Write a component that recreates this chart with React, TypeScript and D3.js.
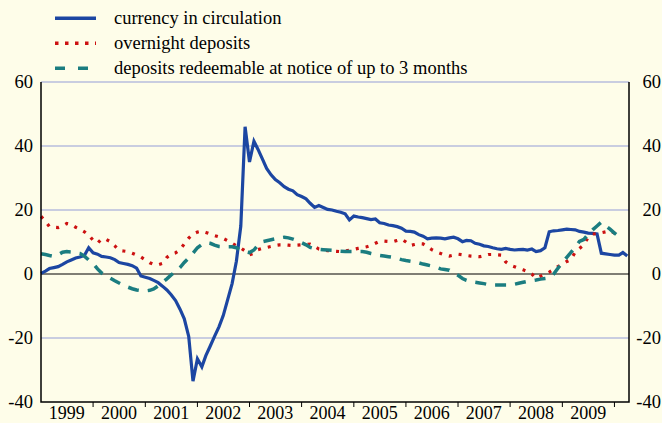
import React from 'react';
import * as d3 from 'd3';

// monthly annual growth rates, first value is January 1999
const startMonth = new Date(1999, 0, 1);

const currency = [
  0.2, 0.9, 1.7, 2.0, 2.3, 3.0, 3.8, 4.4, 5.0, 5.3, 5.8, 8.2,
  6.6, 6.2, 5.5, 5.3, 5.1, 4.5, 3.6, 3.3, 3.0, 2.6, 1.8, -0.6,
  -1.0, -1.4, -2.0, -2.7, -3.8, -5.0, -6.5, -8.3, -11.0, -14.0, -19.5, -33.5,
  -26.5, -29.0, -25.5, -22.5, -19.5, -16.5, -13.0, -8.0, -3.0, 4.0, 15.0, 46.0,
  35.0, 41.5, 39.0, 36.0, 33.0, 31.0, 29.5, 28.5, 27.3, 26.5, 26.0, 24.8,
  24.2, 23.5, 22.1, 20.8, 21.4, 20.8, 20.2, 20.0, 19.6, 19.3, 18.8, 16.9,
  18.1, 17.8, 17.6, 17.3, 17.0, 17.2, 16.0, 15.8, 15.3, 15.1, 14.8, 14.3,
  13.4, 13.3, 13.1, 12.3, 11.8, 11.0, 11.2, 11.3, 11.2, 11.0, 11.3, 11.5,
  11.0, 10.1, 10.5, 10.4, 9.6, 9.3, 8.8, 8.6, 8.2, 7.9, 7.7, 8.0,
  7.7, 7.5, 7.6, 7.7, 7.5, 7.8, 7.0, 7.3, 8.2, 13.2, 13.5, 13.6,
  13.8, 14.0, 13.9, 13.8, 13.3, 13.1, 12.8, 12.7, 12.5, 6.5, 6.3, 6.1,
  5.9, 5.9, 6.7, 5.6
];

const overnight = [
  18.0, 16.5, 14.8, 14.6, 14.5, 15.0, 15.8, 15.5, 14.6, 14.0, 13.2, 12.2,
  10.5, 9.6, 11.0, 10.8, 10.1, 8.8, 7.4, 7.2, 7.0, 6.5, 5.9, 5.3,
  4.4, 3.5, 3.0, 2.9, 3.3, 5.2, 6.2, 6.6, 7.6, 9.4, 11.2, 12.5,
  13.1, 13.4, 13.0, 12.5, 12.0, 11.6, 11.1, 10.4, 9.6, 8.8, 8.1, 7.2,
  6.0, 6.5, 7.6, 8.0, 8.3, 8.6, 8.9, 9.1, 9.1, 9.0, 8.9, 9.0,
  9.1, 9.2, 9.3, 8.6, 7.8, 7.5, 7.3, 7.2, 7.1, 7.0, 7.2, 7.4,
  7.7, 8.0, 8.2, 8.5, 8.9, 9.6, 10.2, 10.3, 10.2, 10.1, 10.5, 10.9,
  10.0, 8.9, 9.2, 9.5, 9.4, 8.5, 7.6, 6.9, 6.4, 5.9, 5.6, 5.9,
  6.2, 6.0, 5.8, 5.6, 5.5, 5.4, 5.7, 6.1, 6.1, 6.0, 5.9, 3.8,
  2.8, 2.3, 1.8, 1.3, 0.8, 0.0, -1.3, -0.7, -0.1, 0.6, 1.4, 2.3,
  3.0, 3.9, 4.5, 6.8, 8.0, 9.1, 11.5, 12.5, 12.6, 12.9, 13.2, 13.5,
  12.8, 11.6
];

const notice = [
  6.3, 6.1, 5.8, 5.5, 6.0, 6.8, 7.0, 6.9, 6.6, 6.4, 5.6, 4.4,
  3.3, 1.6, 0.3, -0.5, -1.3, -2.1, -2.8, -3.5, -4.1, -4.6, -5.0, -5.2,
  -5.3, -5.1, -4.7, -3.7, -2.6, -1.5, -0.3, 0.8, 2.0, 3.6, 5.0, 6.5,
  8.2, 9.2, 9.8, 9.6, 9.0, 8.6, 8.5, 8.5, 8.5, 8.2, 7.5, 7.0,
  6.7, 7.5, 9.0, 10.1, 10.4, 10.7, 11.0, 11.3, 11.5, 11.3, 10.9, 10.4,
  9.8, 9.1, 8.3, 7.9, 7.7, 7.6, 7.5, 7.4, 7.2, 7.1, 7.0, 7.0,
  7.0, 7.0, 7.0, 6.8, 6.4, 6.1, 5.8, 5.6, 5.4, 5.2, 4.9, 4.5,
  4.2, 4.0, 3.8, 3.5, 3.1, 2.8, 2.5, 2.1, 1.6, 1.4, 1.2, 0.3,
  -0.4, -1.4, -2.0, -2.4, -2.6, -2.8, -3.0, -3.3, -3.4, -3.4, -3.4, -3.4,
  -3.4, -3.2, -2.9, -2.6, -2.3, -2.1, -1.9, -1.6, -1.4, -1.2, 0.0, 1.8,
  3.6, 5.2, 6.7, 8.3, 10.2, 10.8, 12.4, 13.8, 15.0, 16.2, 15.0, 14.0,
  12.8, 11.7
];

const yearLabels = ['1999', '2000', '2001', '2002', '2003', '2004', '2005', '2006', '2007', '2008', '2009'];
const yTicks = [60, 40, 20, 0, -20, -40];

const series = [
  { name: 'currency in circulation', values: currency, color: '#1c46a2', width: 3.2, dash: undefined, legendDash: undefined },
  { name: 'overnight deposits', values: overnight, color: '#cc1111', width: 3.2, dash: '3,7', legendDash: '3.5,6.5' },
  { name: 'deposits redeemable at notice of up to 3 months', values: notice, color: '#1b7d80', width: 3.5, dash: '11,9', legendDash: '10,13' }
];

const width = 662;
const height = 423;
const left = 41;
const right = 629;
const top = 82;
const bottom = 402;
const font = 'Liberation Serif';

export default function App() {
  const x = d3.scaleTime()
    .domain([new Date(1999, 0, 1), new Date(2010, 3, 13)])
    .range([left, right]);
  const y = d3.scaleLinear().domain([-40, 60]).range([bottom, top]);

  const monthOf = (i) => d3.timeMonth.offset(startMonth, i);
  const line = d3.line()
    .x((d, i) => x(monthOf(i)))
    .y(d => y(d));

  const yearStarts = d3.timeYear.range(new Date(2000, 0, 1), new Date(2010, 1, 1));

  return (
    <svg width={width} height={height} style={{ position: 'absolute', left: 0, top: 0, display: 'block' }}>
      <rect width={width} height={height} fill="#fefde9" />

      {/* gridlines */}
      {yTicks.filter(d => d !== 0 && d !== -40).map(d => (
        <line key={d} x1={left} x2={right} y1={y(d)} y2={y(d)} stroke="#c9cde0" strokeWidth={2} />
      ))}
      <line x1={left} x2={right} y1={y(0)} y2={y(0)} stroke="#000" strokeWidth={1.2} />

      {series.map(s => (
        <path key={s.name} d={line(s.values)} fill="none" stroke={s.color}
          strokeWidth={s.width} strokeDasharray={s.dash} />
      ))}

      {/* frame: left, bottom, right */}
      <path d={`M${left},${top}V${bottom}H${right}V${top}`} fill="none" stroke="#000" strokeWidth={1.5} />

      {yearStarts.map(d => (
        <line key={+d} x1={x(d)} x2={x(d)} y1={bottom} y2={bottom + 5} stroke="#000" strokeWidth={1} />
      ))}
      {yearLabels.map(d => (
        <text key={d} x={x(new Date(+d, 6, 1))} y={418.5} textAnchor="middle" fontFamily={font} fontSize={18}>{d}</text>
      ))}

      {[33, 661].map(xPos => yTicks.map(d => (
        <text key={xPos + '_' + d} x={xPos} y={y(d) + 6} textAnchor="end" fontFamily={font} fontSize={18.5}>{d}</text>
      )))}

      {series.map((s, i) => {
        const ly = 18.3 + i * 25;
        return (
          <g key={'lg' + i}>
            <line x1={55} x2={96} y1={ly} y2={ly} stroke={s.color} strokeWidth={3.5} strokeDasharray={s.legendDash} />
            <text x={114} y={ly + 5.5} fontFamily={font} fontSize={18.5}>{s.name}</text>
          </g>
        );
      })}
    </svg>
  );
}
